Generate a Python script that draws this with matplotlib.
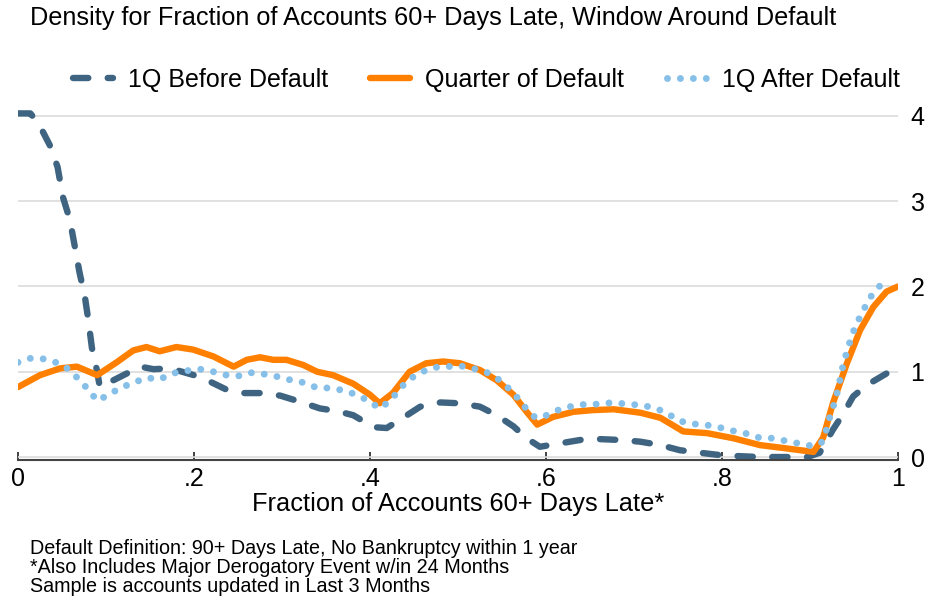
import matplotlib
matplotlib.use('Agg')
import matplotlib.pyplot as plt
from matplotlib.lines import Line2D

plt.rcParams['font.family'] = ['Liberation Sans', 'DejaVu Sans']
plt.rcParams['lines.scale_dashes'] = False

# series
before_x = [0.0, 0.014, 0.023, 0.036, 0.045, 0.051, 0.059, 0.064, 0.07, 0.076,
            0.08, 0.084, 0.09, 0.093, 0.116, 0.139, 0.154, 0.173, 0.2, 0.215,
            0.237, 0.256, 0.279, 0.298, 0.32, 0.343, 0.362, 0.381, 0.404, 0.419,
            0.442, 0.457, 0.48, 0.502, 0.525, 0.544, 0.563, 0.578, 0.593, 0.616,
            0.639, 0.661, 0.684, 0.707, 0.73, 0.752, 0.775, 0.8, 0.82, 0.843,
            0.866, 0.897, 0.911, 0.926, 0.938, 0.949, 0.964, 0.987]
before_y = [4.03, 4.03, 3.92, 3.66, 3.40, 3.05, 2.78, 2.50, 2.16, 1.88,
            1.60, 1.28, 1.00, 0.82, 0.94, 1.06, 1.03, 1.04, 0.96, 0.90,
            0.79, 0.75, 0.75, 0.72, 0.65, 0.57, 0.54, 0.49, 0.35, 0.34,
            0.49, 0.59, 0.64, 0.63, 0.59, 0.49, 0.36, 0.22, 0.12, 0.16,
            0.20, 0.21, 0.20, 0.18, 0.14, 0.08, 0.05, 0.02, 0.01, 0.0,
            0.0, 0.0, 0.05, 0.32, 0.51, 0.71, 0.84, 0.98]

during_x = [0.0, 0.025, 0.048, 0.067, 0.09, 0.112, 0.131, 0.146, 0.161, 0.18,
            0.199, 0.222, 0.245, 0.26, 0.275, 0.29, 0.305, 0.324, 0.34, 0.358,
            0.381, 0.4, 0.411, 0.426, 0.445, 0.464, 0.483, 0.502, 0.525, 0.544,
            0.563, 0.578, 0.59, 0.608, 0.631, 0.653, 0.677, 0.707, 0.73, 0.756,
            0.783, 0.813, 0.843, 0.874, 0.904, 0.915, 0.926, 0.942, 0.957, 0.972,
            0.987, 1.0]
during_y = [0.82, 0.96, 1.04, 1.06, 0.96, 1.11, 1.25, 1.29, 1.24, 1.29,
            1.26, 1.18, 1.06, 1.14, 1.17, 1.14, 1.14, 1.08, 1.00, 0.96,
            0.86, 0.73, 0.63, 0.75, 1.00, 1.10, 1.12, 1.10, 1.02, 0.90,
            0.73, 0.53, 0.38, 0.47, 0.53, 0.55, 0.56, 0.52, 0.46, 0.30,
            0.28, 0.22, 0.14, 0.10, 0.06, 0.23, 0.63, 1.10, 1.49, 1.76,
            1.94, 2.00]

after_x = [0.0, 0.015, 0.03, 0.046, 0.059, 0.07, 0.08, 0.09, 0.103, 0.116,
           0.131, 0.146, 0.161, 0.175, 0.19, 0.207, 0.222, 0.237, 0.25, 0.266,
           0.281, 0.296, 0.311, 0.326, 0.34, 0.355, 0.37, 0.385, 0.398, 0.411,
           0.423, 0.434, 0.443, 0.457, 0.472, 0.487, 0.502, 0.517, 0.533, 0.546,
           0.557, 0.568, 0.578, 0.588, 0.601, 0.616, 0.631, 0.646, 0.661, 0.676,
           0.692, 0.707, 0.722, 0.737, 0.75, 0.764, 0.78, 0.796, 0.811, 0.826,
           0.841, 0.857, 0.872, 0.887, 0.902, 0.913, 0.919, 0.923, 0.928, 0.932,
           0.938, 0.947, 0.953, 0.96, 0.966, 0.976, 0.987]
after_y = [1.11, 1.16, 1.15, 1.10, 1.02, 0.90, 0.79, 0.66, 0.73, 0.81,
           0.87, 0.93, 0.91, 0.98, 1.01, 1.03, 1.00, 0.96, 0.95, 0.99,
           0.97, 0.94, 0.90, 0.87, 0.81, 0.81, 0.78, 0.73, 0.66, 0.57,
           0.66, 0.80, 0.90, 0.99, 1.05, 1.06, 1.07, 1.04, 0.99, 0.91,
           0.81, 0.69, 0.56, 0.46, 0.49, 0.56, 0.60, 0.62, 0.62, 0.64,
           0.62, 0.61, 0.58, 0.52, 0.43, 0.39, 0.38, 0.35, 0.31, 0.28,
           0.23, 0.22, 0.19, 0.16, 0.13, 0.17, 0.33, 0.49, 0.64, 0.80,
           1.10, 1.41, 1.57, 1.70, 1.84, 1.97, 2.09]

labels = ['1Q Before Default', 'Quarter of Default', '1Q After Default']
x_ticks = [0, 0.2, 0.4, 0.6, 0.8, 1.0]
x_ticklabels = ['0', '.2', '.4', '.6', '.8', '1']
y_ticks = [0, 1, 2, 3, 4]
notes = ['Default Definition: 90+ Days Late, No Bankruptcy within 1 year',
         '*Also Includes Major Derogatory Event w/in 24 Months',
         'Sample is accounts updated in Last 3 Months']

c_before = '#3e6481'
c_during = '#ff8000'
c_after = '#86bfe8'

W, H = 932, 603
fig = plt.figure(figsize=(W / 100, H / 100), dpi=100)
ax = fig.add_axes([18 / W, 1 - 460 / H, 880 / W, 350 / H])

dash_style = dict(color=c_before, lw=4.6, dashes=(11, 14), dash_capstyle='round')
solid_style = dict(color=c_during, lw=4.6, solid_capstyle='round')
dot_style = dict(color=c_after, lw=5.0, dashes=(0.01, 9.3), dash_capstyle='round')

ax.plot(before_x, before_y, **dash_style)
ax.plot(during_x, during_y, solid_joinstyle='round', **solid_style)
ax.plot(after_x, after_y, **dot_style)

ax.set_xlim(0, 1)
ax.set_ylim(-0.035, 4.07)
ax.set_xticks(x_ticks)
ax.set_xticklabels(x_ticklabels, fontsize=18)
ax.set_yticks(y_ticks)
ax.yaxis.tick_right()
ax.tick_params(axis='y', length=0, pad=9, labelsize=18)
ax.tick_params(axis='x', direction='in', length=6, width=1.2, pad=5, color='#222222')
ax.grid(axis='y', color='#dcdcdc', lw=1.2)
ax.set_axisbelow(True)
for s in ['top', 'left', 'right']:
    ax.spines[s].set_visible(False)
ax.spines['bottom'].set_color('#444444')
ax.spines['bottom'].set_linewidth(1.5)
ax.set_xlabel('Fraction of Accounts 60+ Days Late*', fontsize=18.3, labelpad=1)

fig.text(30 / W, 1 - 18 / H, 'Density for Fraction of Accounts 60+ Days Late, Window Around Default',
         fontsize=18.2, va='center', ha='left')

handles = [Line2D([], [], **dash_style), Line2D([], [], **solid_style),
           Line2D([], [], **dot_style)]
fig.legend(handles, labels, loc='center', bbox_to_anchor=(486 / W, 1 - 80 / H),
           ncol=3, frameon=False, fontsize=18, handlelength=1.6,
           handletextpad=0.6, columnspacing=1.7)

# footnotes, placed by baseline so the spacing is even
for i, t in enumerate(notes):
    fig.text(30 / W, 1 - (554 + 19 * i) / H, t, fontsize=14.2, va='baseline', ha='left')

fig.savefig('out.png', dpi=100)
